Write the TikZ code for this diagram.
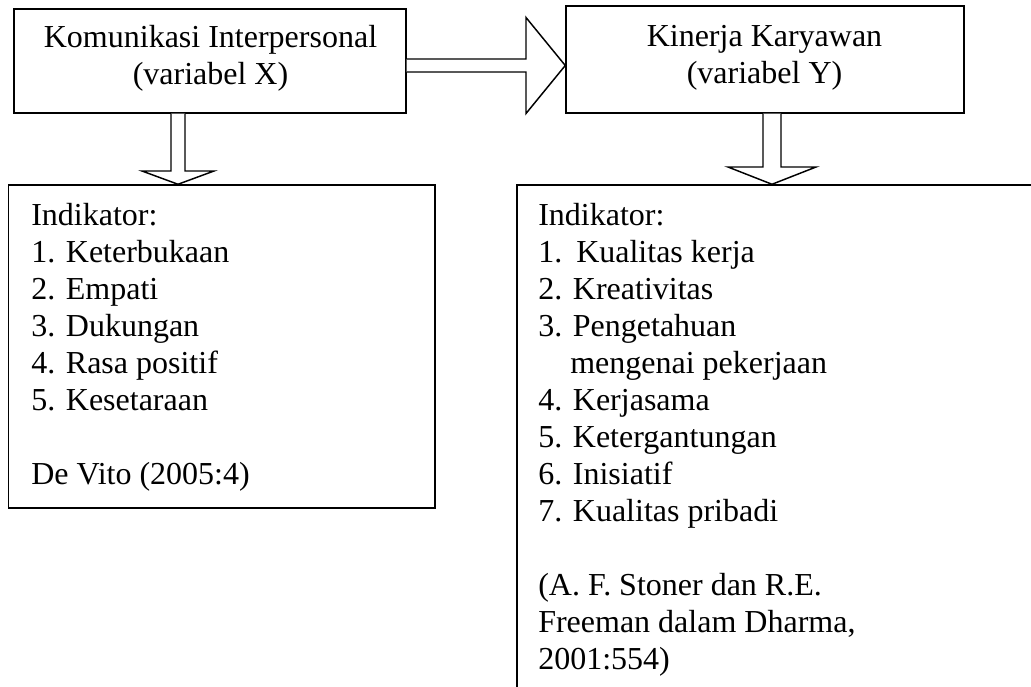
\documentclass[tikz,border=0pt]{standalone}
\usepackage{fontspec}
\setmainfont{Liberation Serif}
\usetikzlibrary{calc}
\begin{document}
\begin{tikzpicture}[x=0.75pt,y=-0.75pt,
  txt/.style={font=\fontsize{24}{27.75}\selectfont, inner sep=0pt},
  box/.style={draw, line width=1.1pt, rectangle, inner sep=0pt},
  blk/.style={draw, line width=1.1pt, fill=white, line join=miter}]
\useasboundingbox (0,0) rectangle (1031,686);
\clip (0,0) rectangle (1031,686);
% top boxes
\node[box, minimum width=294pt, minimum height=78pt] (A) at (210,61) {};
\node[txt, anchor=base] (a1) at (210.5,47) {Komunikasi Interpersonal};
\node[txt, anchor=base] (a2) at (210.5,84) {(variabel X)};
\node[box, minimum width=298.5pt, minimum height=80.25pt] (B) at (765,59.5) {};
\node[txt, anchor=base] (b1) at (764.5,46) {Kinerja Karyawan};
\node[txt, anchor=base] (b2) at (764.5,83) {(variabel Y)};
% lower boxes
\node[box, minimum width=319.875pt, minimum height=242.25pt] (C) at (221.75,346.5) {};
\node[box, minimum width=437.25pt, minimum height=431.25pt] (D) at (808.5,472.5) {};
% text of box C
\node[txt, anchor=base west] (c0) at (31,225) {Indikator:};
\node[txt, anchor=base west] (c1) at (31,262) {1. Keterbukaan};
\node[txt, anchor=base west] (c2) at (31,299) {2. Empati};
\node[txt, anchor=base west] (c3) at (31,336) {3. Dukungan};
\node[txt, anchor=base west] (c4) at (31,373) {4. Rasa positif};
\node[txt, anchor=base west] (c5) at (31,410) {5. Kesetaraan};
\node[txt, anchor=base west] (c6) at (31,484) {De Vito (2005:4)};
% text of box D
\node[txt, anchor=base west] (d0) at (538,225) {Indikator:};
\node[txt, anchor=base west] (d1) at (538,262) {1.\hspace{10.5pt}Kualitas kerja};
\node[txt, anchor=base west] (d2) at (538,299) {2. Kreativitas};
\node[txt, anchor=base west] (d3) at (538,336) {3. Pengetahuan};
\node[txt, anchor=base west] (d3b) at (570,373) {mengenai pekerjaan};
\node[txt, anchor=base west] (d4) at (538,410) {4. Kerjasama};
\node[txt, anchor=base west] (d5) at (538,447) {5. Ketergantungan};
\node[txt, anchor=base west] (d6) at (538,484) {6. Inisiatif};
\node[txt, anchor=base west] (d7) at (538,521) {7. Kualitas pribadi};
\node[txt, anchor=base west] (d8) at (538,595) {(A. F. Stoner dan R.E.};
\node[txt, anchor=base west] (d9) at (538,632) {Freeman dalam Dharma,};
\node[txt, anchor=base west] (d10) at (538,669) {2001:554)};
% block arrow A -> B
\draw[blk] ($(A.east)+(0,-2)$) -- (526,59) -- (526,17.5) -- ($(B.west)+(0,6)$)
  -- (526,113.5) -- (526,72) -- ($(A.east)+(0,11)$);
% block arrow A -> C
\draw[blk] ($(A.south)+(-39,0)$) -- (171,171) -- (142,171) -- ($(C.north)+(-43.75,0)$)
  -- (214,171) -- (185,171) -- ($(A.south)+(-25,0)$);
% block arrow B -> D
\draw[blk] ($(B.south)+(-2,0)$) -- (763,167) -- (728,167) -- ($(D.north)+(-36.5,0)$)
  -- (816,167) -- (781,167) -- ($(B.south)+(16,0)$);
\end{tikzpicture}
\end{document}
